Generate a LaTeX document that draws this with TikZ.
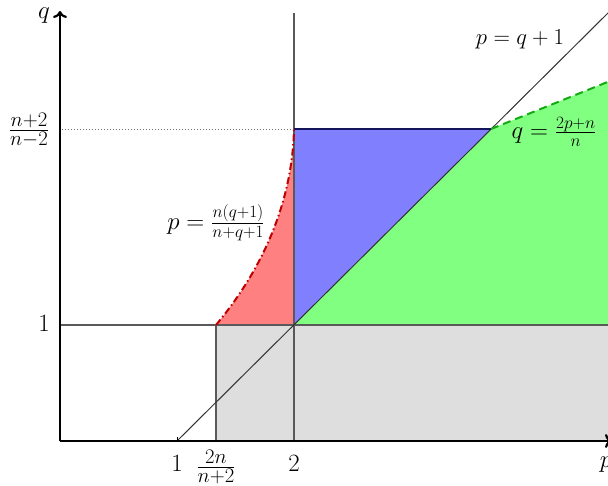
\documentclass[tikz,border=0pt]{standalone}
\usepackage{graphicx}
\usetikzlibrary{arrows.meta}
\definecolor{regred}{RGB}{255,128,128}
\definecolor{regblue}{RGB}{128,128,255}
\definecolor{reggreen}{RGB}{128,255,128}
\definecolor{reggray}{RGB}{222,222,222}
\definecolor{curvered}{RGB}{190,0,0}
\definecolor{curvegreen}{RGB}{20,170,20}
\begin{document}
\begin{tikzpicture}[x=1pt,y=-1pt,
  gridline/.style={draw=black!65, line width=1.1pt},
  axisline/.style={line width=2.2pt, -{To[length=7pt,width=14pt]}},
  ticklbl/.style={inner sep=0pt, font=\fontsize{28}{32}\selectfont},
  eqlbl/.style={inner sep=0pt, font=\fontsize{24.5}{28}\selectfont},
  eqsmall/.style={inner sep=0pt, font=\fontsize{20.74}{25}\selectfont}]
\useasboundingbox (0,0) rectangle (608,485);
\clip (0,0) rectangle (608,485);
% key points
\coordinate (O) at (60,441);
\coordinate (Pend) at (612,441);
\coordinate (Qend) at (60,11);
\coordinate (Q1L) at (60,325);
\coordinate (Q1R) at (608,325);
\coordinate (A) at (216,325);
\coordinate (Abot) at (216,441);
\coordinate (B) at (294,325);
\coordinate (Btop) at (294,13);
\coordinate (Bbot) at (294,441);
\coordinate (C) at (294,129);
\coordinate (D) at (491,129);
\coordinate (E) at (610,81);
\coordinate (F) at (610,325);
\coordinate (G) at (610,441);
\coordinate (H) at (62,129);
\coordinate (Dg1) at (177,441);
\coordinate (Dg2) at (610,11);
% regions
\fill[reggray] (A) rectangle (G);
\fill[regred] (A) .. controls (252,282) and (292,215) .. (C) -- (B) -- cycle;
\fill[regblue] (B) -- (C) -- (D) -- cycle;
\fill[reggreen] (B) -- (D) -- (E) -- (F) -- cycle;
% lines
\draw[gridline] (Q1L) -- (Q1R);
\draw[gridline] (Btop) -- (Bbot);
\draw[gridline] (A) -- (Abot);
\draw[draw=black!80, line width=1pt] (Dg1) -- (Dg2);
\draw[black!55, line width=1pt, dotted] (H) -- (C);
\draw[draw={rgb,255:red,20;green,20;blue,90}, line width=2.2pt] (C) -- (D);
\draw[curvered, line width=2pt, dash pattern=on 7pt off 3pt on 1.5pt off 3pt] (A) .. controls (252,282) and (292,215) .. (C);
\draw[curvegreen, line width=2pt, dash pattern=on 8pt off 5pt] (D) -- (E);
% axes
\draw[axisline] (O) -- (Pend);
\draw[axisline] (O) -- (Qend);
\draw[line width=1pt] (Dg1) -- ++(0,-4);
% labels
\node[ticklbl] (lq) at (44,16) {$q$};
\node[ticklbl] (lp) at (606,465) {$p$};
\node[ticklbl] (l1p) at (177,463) {$1$};
\node[ticklbl] (lfrp) at (216,467) {$\frac{2n}{n+2}$};
\node[ticklbl] (l2p) at (294,463) {$2$};
\node[ticklbl] (l1q) at (44,323) {$1$};
\node[ticklbl] (lfrq) at (29,130) {$\frac{n+2}{n-2}$};
\node[eqsmall] (ldiag) at (520,39) {\scalebox{1.1}{$p = q+1$}};
\node[eqlbl] (lgreen) at (554,132) {$q = \frac{2p+n}{n}$};
\node[eqlbl] (lred) at (216,223) {$p = \frac{n(q+1)}{n+q+1}$};
\end{tikzpicture}
\end{document}
